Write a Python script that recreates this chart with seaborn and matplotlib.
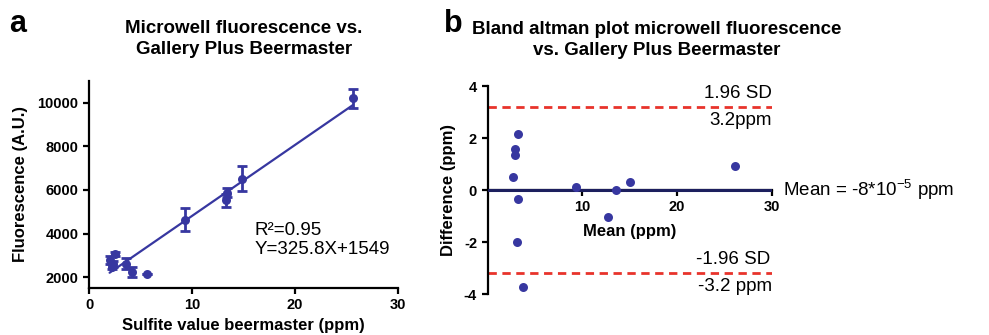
import numpy as np
import matplotlib
matplotlib.use("Agg")
import matplotlib.pyplot as plt
import seaborn as sns

# ---- data ----
# panel a: beermaster sulfite (ppm) vs microwell fluorescence (A.U.)
sulfite_ppm = [2.0, 2.3, 2.5, 2.2, 3.6, 4.2, 5.6, 9.3, 13.3, 13.4, 14.9, 25.6]
fluorescence = [2780, 2600, 3060, 2480, 2620, 2240, 2150, 4630, 5530, 5880, 6520, 10200]
fluor_err = [200, 150, 100, 120, 250, 220, 0, 520, 300, 220, 580, 420]
fit_slope = 325.8
fit_intercept = 1549

# panel b: Bland-Altman
ba_mean = [2.68, 2.85, 2.85, 3.2, 3.2, 3.1, 3.7, 9.3, 12.7, 13.5, 15.0, 26.05]
ba_diff = [0.51, 1.56, 1.35, 2.14, -0.35, -1.99, -3.72, 0.10, -1.05, 0.0, 0.30, 0.93]
ba_limit = 3.2
ba_bias = 0.0

BLUE = "#3737a0"
NAVY = "#1c1f5e"
RED = "#e8332b"

sns.set_style("ticks")
plt.rcParams["font.family"] = ["Liberation Sans", "DejaVu Sans"]
plt.rcParams["mathtext.fontset"] = "custom"
plt.rcParams["mathtext.rm"] = "Liberation Sans"
plt.rcParams["axes.unicode_minus"] = False
for key in ("text.color", "axes.labelcolor", "xtick.color", "ytick.color"):
    plt.rcParams[key] = "black"

fig = plt.figure(figsize=(9.89, 3.35), dpi=100)
W, H = 989, 335


def ax_rect(x0, y0, x1, y1):
    # pixel box -> figure fraction
    return [x0 / W, 1 - y1 / H, (x1 - x0) / W, (y1 - y0) / H]


# ---------------- panel a ----------------
ax1 = fig.add_axes(ax_rect(89, 81, 398, 288))
fit_x = np.array([min(sulfite_ppm), max(sulfite_ppm)])
sns.lineplot(x=fit_x, y=fit_slope * fit_x + fit_intercept, ax=ax1,
             color=BLUE, linewidth=1.6)
ax1.errorbar(sulfite_ppm, fluorescence, yerr=fluor_err, fmt="none",
             ecolor=BLUE, elinewidth=2, capsize=3.5, capthick=2)
sns.scatterplot(x=sulfite_ppm, y=fluorescence, ax=ax1, color=BLUE,
                s=42, edgecolor=BLUE, linewidth=0, zorder=5)
ax1.set_xlim(0, 30)
ax1.set_ylim(1500, 11000)
ax1.set_xticks([0, 10, 20, 30])
ax1.set_yticks([2000, 4000, 6000, 8000, 10000])
ax1.set_xlabel("Sulfite value beermaster (ppm)", fontsize=12, fontweight="bold")
ax1.set_ylabel("Fluorescence (A.U.)", fontsize=12, fontweight="bold")
ax1.yaxis.set_label_coords(-0.198, 0.5)
ax1.text(16.1, 3700, "R\u00b2=0.95\nY=325.8X+1549", fontsize=13.5,
         ha="left", va="center", linespacing=1.2)

# ---------------- panel b ----------------
ax2 = fig.add_axes(ax_rect(487.5, 86, 772, 294))
ax2.axhline(ba_limit, xmin=0, xmax=1, color=RED, linewidth=2, dashes=(3, 2))
ax2.axhline(-ba_limit, xmin=0, xmax=1, color=RED, linewidth=2, dashes=(3, 2))
ax2.axhline(ba_bias, color=NAVY, linewidth=2.2, zorder=3)
sns.scatterplot(x=ba_mean, y=ba_diff, ax=ax2, color=BLUE, s=42,
                edgecolor=BLUE, linewidth=0, zorder=5)
ax2.set_xlim(0, 30)
ax2.set_ylim(-4, 4)
ax2.set_xticks([10, 20, 30])
ax2.set_yticks([-4, -2, 0, 2, 4])
ax2.spines["bottom"].set_position(("data", 0))
ax2.set_xlabel("Mean (ppm)", fontsize=12, fontweight="bold")
ax2.xaxis.set_label_coords(0.5, 0.335)
ax2.set_ylabel("Difference (ppm)", fontsize=12, fontweight="bold")
ax2.yaxis.set_label_coords(-0.11, 0.5)

ax2.text(30, ba_limit + 0.2, "1.96 SD", fontsize=13.5, ha="right", va="bottom")
ax2.text(30, ba_limit - 0.2, "3.2ppm", fontsize=13.5, ha="right", va="top")
ax2.text(29.8, -ba_limit + 0.2, "-1.96 SD", fontsize=13.5, ha="right", va="bottom")
ax2.text(30, -ba_limit - 0.2, "-3.2 ppm", fontsize=13.5, ha="right", va="top")
ax2.text(31.2, ba_bias, "Mean = -8*10$^{\\mathregular{-5}}$ ppm", fontsize=13.5,
         ha="left", va="center", clip_on=False)

for ax in (ax1, ax2):
    sns.despine(ax=ax)
    for side in ("left", "bottom"):
        ax.spines[side].set_linewidth(1.6)
        ax.spines[side].set_color("black")
    ax.tick_params(width=1.6, length=4, labelsize=10.5, color="black")
    for lab in ax.get_xticklabels() + ax.get_yticklabels():
        lab.set_fontweight("bold")

# titles and panel letters
fig.text(244 / W, 1 - 39 / H, "Microwell fluorescence vs.\nGallery Plus Beermaster",
         ha="center", va="center", fontsize=13.5, fontweight="bold", linespacing=1.3)
fig.text(657 / W, 1 - 40 / H,
         "Bland altman plot microwell fluorescence\nvs. Gallery Plus Beermaster",
         ha="center", va="center", fontsize=13.5, fontweight="bold", linespacing=1.3)
fig.text(18 / W, 1 - 24 / H, "a", ha="center", va="center", fontsize=22, fontweight="bold")
fig.text(453 / W, 1 - 24 / H, "b", ha="center", va="center", fontsize=22, fontweight="bold")

fig.savefig("out.png", dpi=100)
